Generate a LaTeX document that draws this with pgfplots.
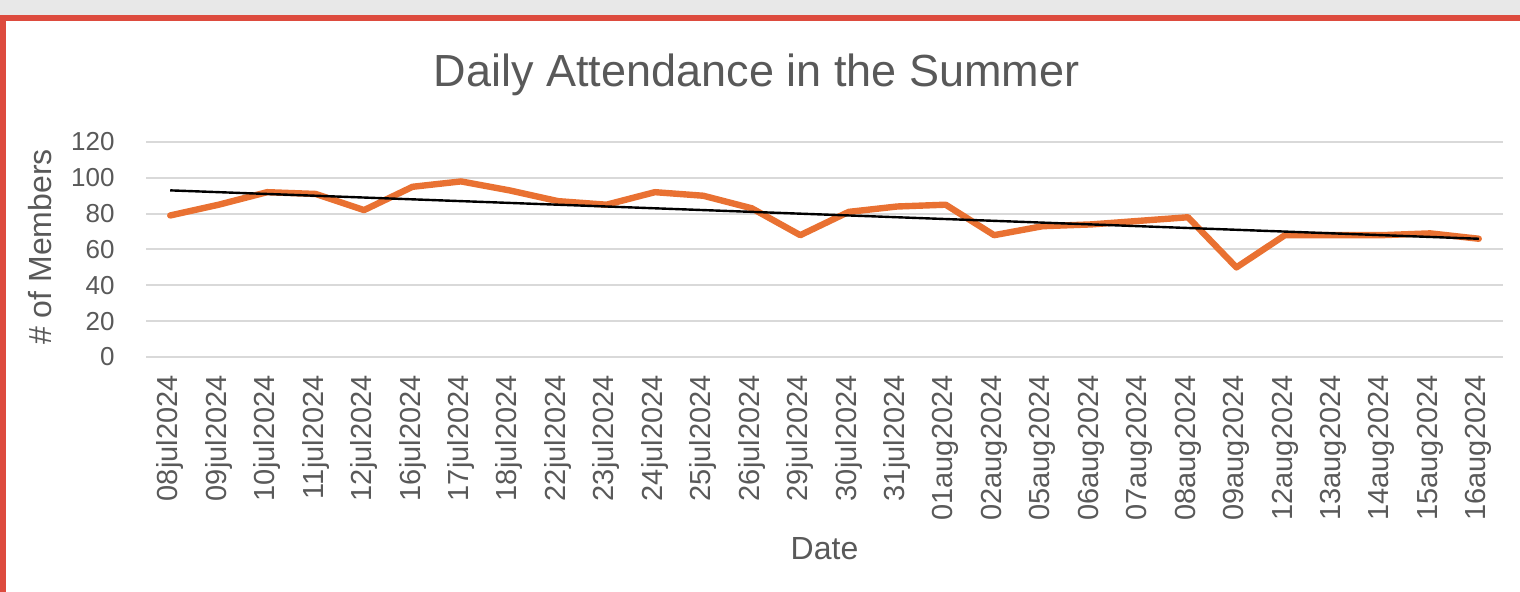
\documentclass[border=0pt]{standalone}
\usepackage{fontspec}
\setmainfont{Liberation Sans}
\usepackage{pgfplots}
\pgfplotsset{compat=1.18}
\usepackage{pgfplotstable}

\definecolor{txtgray}{HTML}{595959}
\definecolor{gridgray}{HTML}{D9D9D9}
\definecolor{lineorange}{HTML}{E97132}
\definecolor{framered}{HTML}{DD4B3E}
\definecolor{bandgray}{HTML}{E8E8E8}

% daily member counts, x = position of the date in the list
\pgfplotstableread{
x  y
0  79
1  85
2  92
3  91
4  82
5  95
6  98
7  93
8  87
9  85
10 92
11 90
12 83
13 68
14 81
15 84
16 85
17 68
18 73
19 74
20 76
21 78
22 50
23 68
24 68
25 68
26 69
27 66
}\attendance

\begin{document}
\begin{tikzpicture}
\useasboundingbox (0,0) rectangle (760bp,296bp);
% window frame around the chart
\fill[bandgray] (0,288.5bp) rectangle (760bp,296bp);
\fill[framered] (0,285.5bp) rectangle (760bp,288.5bp);
\fill[framered] (0,0) rectangle (3bp,288.5bp);

\begin{axis}[
    at={(73bp,117.5bp)}, anchor=south west,
    scale only axis, width=678.5bp, height=107.5bp,
    xmin=-0.5, xmax=27.5, ymin=0, ymax=120,
    xtick={0,...,27},
    xticklabels={08jul2024,09jul2024,10jul2024,11jul2024,12jul2024,16jul2024,
        17jul2024,18jul2024,22jul2024,23jul2024,24jul2024,25jul2024,26jul2024,
        29jul2024,30jul2024,31jul2024,01aug2024,02aug2024,05aug2024,06aug2024,
        07aug2024,08aug2024,09aug2024,12aug2024,13aug2024,14aug2024,15aug2024,
        16aug2024},
    ytick={0,20,...,120},
    axis line style={draw=none},
    ymajorgrids, major grid style={gridgray, line width=1bp},
    major tick length=0pt,
    /pgf/number format/assume math mode=true,
    tick label style={text=txtgray, inner sep=0pt},
    yticklabel style={font=\fontsize{13bp}{15bp}\selectfont, anchor=east, xshift=-15.5bp},
    xticklabel style={font=\fontsize{14.5bp}{16bp}\selectfont, yshift=-9bp, rotate=90, anchor=east},
    label style={font=\fontsize{16bp}{18bp}\selectfont, text=txtgray},
    xlabel={Date},
    xlabel style={at={(axis description cs:0.5,-0.893)}, anchor=center},
    ylabel={\# of Members},
    ylabel style={at={(axis description cs:-0.078,0.512)}, anchor=center},
    title={Daily Attendance in the Summer},
    title style={at={(axis description cs:0.450,1.256)}, anchor=center, yshift=0pt,
        font=\fontsize{22.5bp}{24bp}\selectfont, text=txtgray},
    clip=false,
]
\addplot[lineorange, line width=3.2bp, line join=round, line cap=round] table[x=x, y=y] {\attendance};
% linear trendline
\addplot[black, line width=1.2bp] coordinates {(0,93) (27,66)};
\end{axis}
\end{tikzpicture}
\end{document}
